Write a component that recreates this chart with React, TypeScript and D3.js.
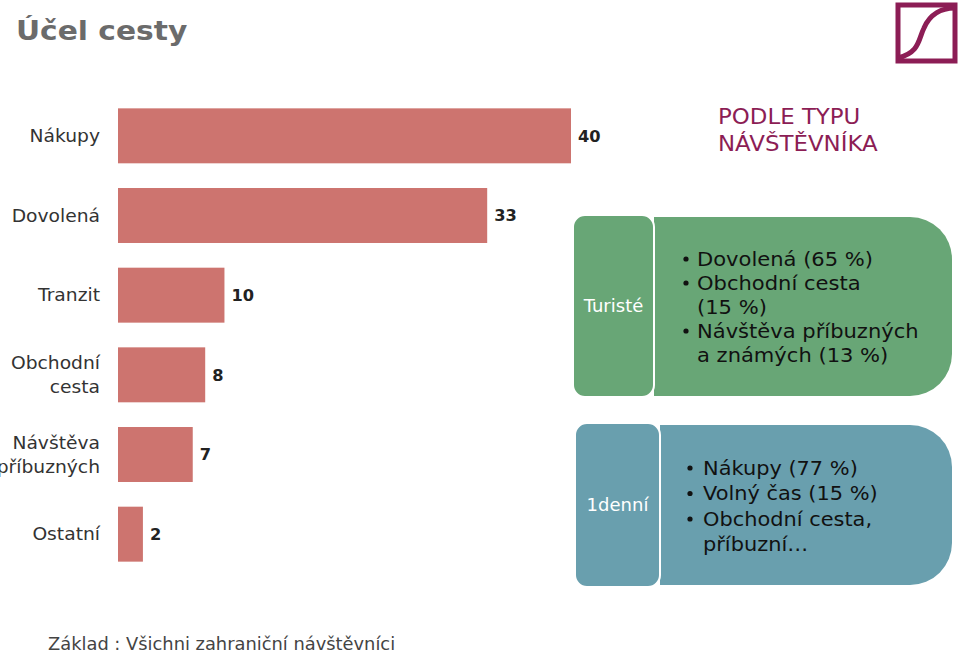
import React from "react";
import * as d3 from "d3";

const categories: string[][] = [
  ["Nákupy"],
  ["Dovolená"],
  ["Tranzit"],
  ["Obchodní", "cesta"],
  ["Návštěva", "příbuzných"],
  ["Ostatní"],
];
const values: number[] = [40, 32.6, 9.4, 7.7, 6.6, 2.2];
const valueLabels: string[] = ["40", "33", "10", "8", "7", "2"];

const touristHeader = "Turisté";
const touristItems: string[][] = [
  ["Dovolená (65 %)"],
  ["Obchodní cesta", "(15 %)"],
  ["Návštěva příbuzných", "a známých (13 %)"],
];
const dayHeader = "1denní";
const dayItems: string[][] = [
  ["Nákupy (77 %)"],
  ["Volný čas (15 %)"],
  ["Obchodní cesta,", "příbuzní…"],
];

const FONT = "'DejaVu Sans', Verdana, sans-serif";

function T(props: {
  x: number; y: number; sx?: number; size: number; fill: string;
  anchor?: "start" | "middle" | "end"; weight?: string; children: React.ReactNode;
}) {
  const { x, y, sx = 1.08, size, fill, anchor = "start", weight = "normal", children } = props;
  return (
    <text transform={`translate(${x},${y}) scale(${sx},1)`} textAnchor={anchor} dominantBaseline="central"
      fontSize={size} fontWeight={weight} fill={fill} fontFamily={FONT}>{children}</text>
  );
}

function rightBox(x0: number, y0: number, x1: number, y1: number, r: number) {
  const p = d3.path();
  p.moveTo(x0, y0);
  p.lineTo(x1 - r, y0);
  p.arcTo(x1, y0, x1, y0 + r, r);
  p.lineTo(x1, y1 - r);
  p.arcTo(x1, y1, x1 - r, y1, r);
  p.lineTo(x0, y1);
  p.closePath();
  return p.toString();
}

function Panel(props: {
  lx0: number; lx1: number; ly0: number; ly1: number;
  rx0: number; rx1: number; ry0: number; ry1: number;
  color: string; header: string; items: string[][];
  bulletX: number; textX: number; firstY: number; lineH: number; fontSize: number; sx: number;
}) {
  const { lx0, lx1, ly0, ly1, rx0, rx1, ry0, ry1, color, header, items, bulletX, textX, firstY, lineH, fontSize, sx } = props;
  const lines: { text: string; bullet: boolean }[] = [];
  items.forEach((it) => it.forEach((t, i) => lines.push({ text: t, bullet: i === 0 })));
  return (
    <g>
      <path d={rightBox(rx0, ry0, rx1, ry1, 42)} fill={color} />
      <rect x={lx0} y={ly0} width={lx1 - lx0} height={ly1 - ly0} rx={12} ry={12} fill={color} stroke="#fff" strokeWidth={2} />
      <T x={(lx0 + lx1) / 2} y={(ly0 + ly1) / 2} anchor="middle" fill="#fff" size={17} sx={1.06}>{header}</T>
      {lines.map((l, i) => (
        <g key={i}>
          {l.bullet && <circle cx={bulletX} cy={firstY + i * lineH} r={2.6} fill="#111" />}
          <T x={textX} y={firstY + i * lineH} fill="#111" size={fontSize} sx={sx}>{l.text}</T>
        </g>
      ))}
    </g>
  );
}

export default function App() {
  const W = 960, H = 652;
  const x = d3.scaleLinear().domain([0, 40]).range([118, 571]);
  const y = d3.scaleBand<number>().domain(d3.range(values.length)).range([96, 574]).paddingInner(0.31).paddingOuter(0.155);
  const bw = y.bandwidth();

  return (
    <svg width={W} height={H} style={{ position: "absolute", left: 0, top: 0, background: "#fff" }} fontFamily={FONT}>
      <T x={16} y={31} size={27} weight="bold" fill="#6b6b6b" sx={1.1}>Účel cesty</T>

      {/* logo */}
      <g>
        <rect x={898} y={5} width={57} height={56} fill="none" stroke="#8c1d55" strokeWidth={5} />
        <path d="M 898 58 C 920 52, 918 40, 924 28 C 930 14, 942 8, 955 8" fill="none" stroke="#8c1d55" strokeWidth={5} />
      </g>

      {values.map((v, i) => {
        const cy = (y(i) as number) + bw / 2;
        const lbl = categories[i];
        return (
          <g key={i}>
            <rect x={x(0)} y={y(i)} width={x(v) - x(0)} height={bw} fill="#cd746f" />
            <T x={x(v) + 7} y={cy + 1} size={15} weight="bold" fill="#222" sx={1.08}>{valueLabels[i]}</T>
            {lbl.map((t, j) => (
              <T key={j} x={100} y={cy + (j - (lbl.length - 1) / 2) * 24} anchor="end" size={17} fill="#333" sx={1.1}>{t}</T>
            ))}
          </g>
        );
      })}

      <T x={718} y={116} size={22} fill="#8c1d55" sx={1.04}>PODLE TYPU</T>
      <T x={718} y={143} size={22} fill="#8c1d55" sx={1.04}>NÁVŠTĚVNÍKA</T>

      <Panel lx0={573} lx1={654} ly0={215} ly1={397} rx0={654} rx1={952} ry0={217} ry1={396}
        color="#68a676" header={touristHeader} items={touristItems}
        bulletX={686} textX={697} firstY={259} lineH={24} fontSize={19.5} sx={1.08} />
      <Panel lx0={575} lx1={660} ly0={423} ly1={587} rx0={660} rx1={952} ry0={425} ry1={585}
        color="#699fae" header={dayHeader} items={dayItems}
        bulletX={690} textX={703} firstY={468} lineH={25.5} fontSize={19} sx={1.1} />

      <T x={48} y={644} size={17} fill="#444" sx={1.05}>Základ : Všichni zahraniční návštěvníci</T>
    </svg>
  );
}
